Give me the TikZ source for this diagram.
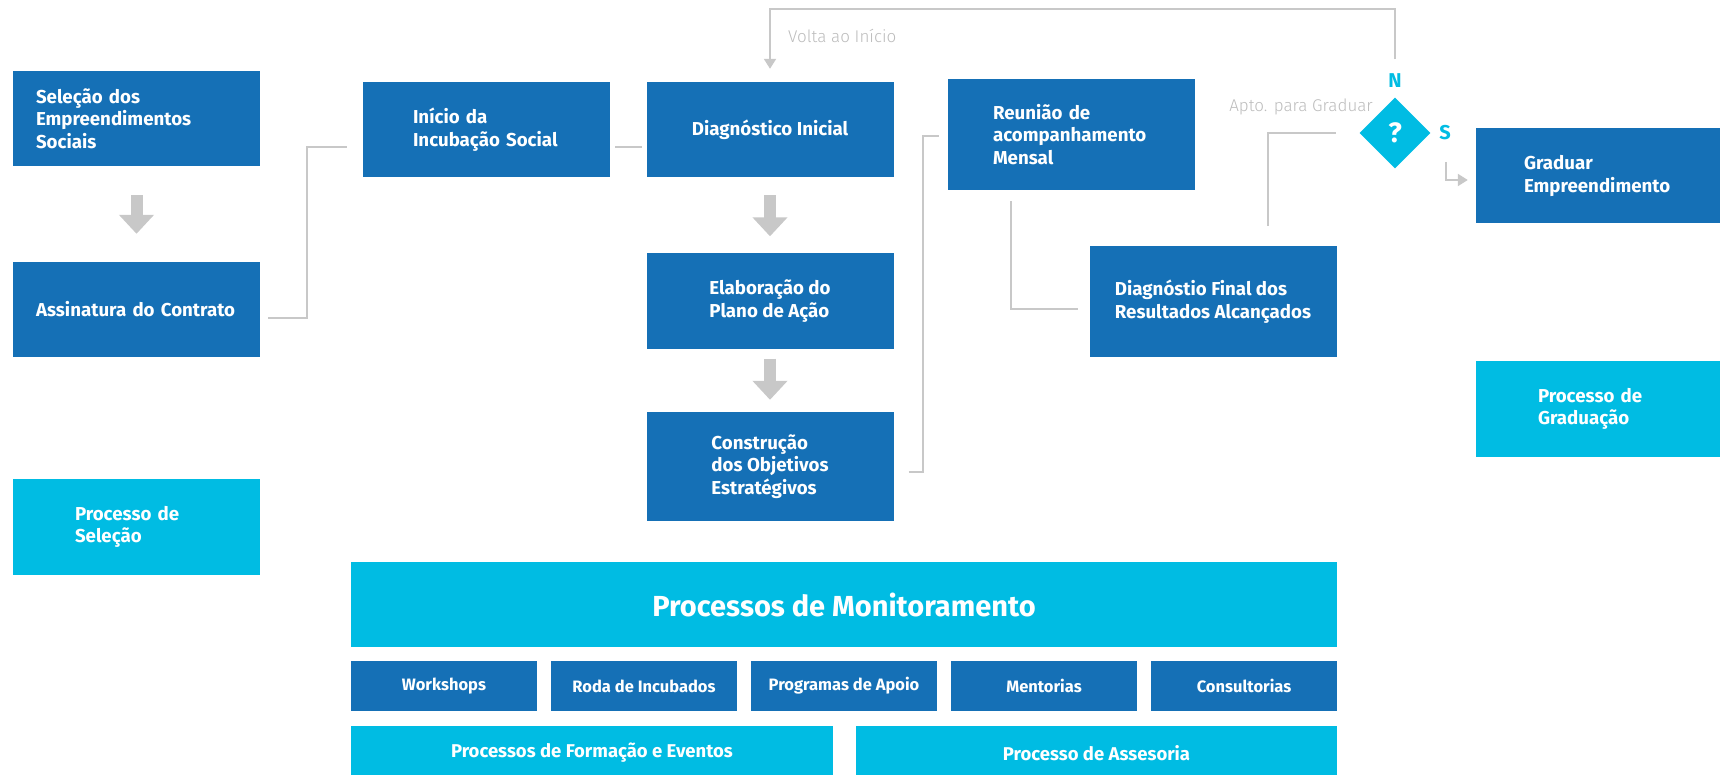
\documentclass[tikz,border=0pt]{standalone}
\usepackage{fontspec}
\setmainfont{Fira Sans}
\newfontfamily\lightfont{Fira Sans Light}
\usetikzlibrary{positioning,arrows}
\usetikzlibrary{shapes}
\usetikzlibrary{arrows.meta}
\usepackage{xcolor}
\definecolor{escuro}{RGB}{21,112,182}
\definecolor{claro}{RGB}{0,188,227}
\definecolor{linha}{RGB}{200,200,200}
\definecolor{rotulo}{RGB}{188,188,188}

\begin{document}
\begin{tikzpicture}[x=1pt,y=1pt]
	\useasboundingbox (0,0) rectangle (1720,-775);
	\tikzstyle{every node}=[font=\fontsize{18.7}{22.5}\selectfont\bfseries, text=white, fill=escuro, inner sep=0pt, minimum width=247pt, minimum height=95pt, align=left]
	\tikzstyle{liga}=[draw=linha, line width=2pt]
	\tikzstyle{seta}=[liga, -{Triangle[width=12pt,length=10pt]}]
	\tikzstyle{bloco}=[draw=linha, line width=12pt, -{Triangle[width=34pt,length=19pt]}]
	\draw (136.5,-118.5) node (sel) [inner xsep=23pt, text width=201pt] {Seleção dos\\Empreendimentos\\Sociais};
	\draw (136.5,-309.5) node (assin) [inner xsep=23pt, text width=201pt] {Assinatura do Contrato};
	\draw (486.5,-129.5) node (inicio) [inner xsep=50pt, text width=147pt] {Início da\\Incubação Social};
	\draw (770,-129.5) node (diag) {Diagnóstico Inicial};
	\draw (770,-301) node (elab) {Elaboração do\\Plano de Ação};
	\draw (770,-466.5) node (constr) [minimum height=109pt] {Construção\\dos Objetivos\\Estratégivos};
	\draw (1071.5,-134.5) node (reun) [minimum height=111pt, inner xsep=45pt, text width=157pt] {Reunião de\\acompanhamento\\Mensal};
	\draw (1213,-301.5) node (dfinal) [minimum height=111pt] {Diagnóstio Final dos\\Resultados Alcançados};
	\draw (1599.5,-176) node (grad) [inner xsep=48pt, text width=151pt] {Graduar\\Empreendimento};
	\draw (444,-686) node (wk) [minimum width=186pt, minimum height=50pt, font=\fontsize{16.5}{20}\selectfont\bfseries] {Workshops};
	\draw (644,-686) node (roda) [minimum width=186pt, minimum height=50pt, font=\fontsize{16.5}{20}\selectfont\bfseries] {Roda de Incubados};
	\draw (844,-686) node (prog) [minimum width=186pt, minimum height=50pt, font=\fontsize{16.5}{20}\selectfont\bfseries] {Programas de Apoio};
	\draw (1044,-686) node (ment) [minimum width=186pt, minimum height=50pt, font=\fontsize{16.5}{20}\selectfont\bfseries] {Mentorias};
	\draw (1244,-686) node (cons) [minimum width=186pt, minimum height=50pt, font=\fontsize{16.5}{20}\selectfont\bfseries] {Consultorias};
	\tikzstyle{every node}=[font=\fontsize{18.7}{22.5}\selectfont\bfseries, text=white, fill=claro, inner sep=0pt, minimum width=247pt, minimum height=96pt, align=left]
	\draw (136.5,-527) node (psel) [inner xsep=62pt, text width=123pt] {Processo de\\Seleção};
	\draw (1599.5,-409) node (pgrad) [inner xsep=62pt, text width=123pt] {Processo de\\Graduação};
	\draw (844,-604.5) node (monit) [minimum width=986pt, minimum height=85pt, font=\fontsize{29}{34}\selectfont\bfseries] {Processos de Monitoramento};
	\draw (592,-753) node (form) [minimum width=482pt, minimum height=54pt, font=\fontsize{18.5}{22}\selectfont\bfseries] {Processos de Formação e Eventos};
	\draw (1096.5,-753) node (asses) [minimum width=481pt, minimum height=54pt, font=\fontsize{18.5}{22}\selectfont\bfseries] {Processo de Assesoria};
	\draw (1395,-133) node (decis) [diamond, minimum width=71pt, minimum height=71pt, font=\fontsize{28}{32}\selectfont\bfseries] {?};
	\tikzstyle{every node}=[fill=none, inner sep=0pt]
	\draw (1395,-81) node (nao) [text=claro, font=\fontsize{20}{24}\selectfont\bfseries] {N};
	\draw (1445,-133) node (sim) [text=claro, font=\fontsize{20}{24}\selectfont\bfseries] {S};
	\draw (1373,-107) node (apto) [anchor=east, text=rotulo, font=\fontsize{17}{20}\lightfont] {Apto. para Graduar};
	\draw (788,-36) node (volta) [anchor=west, text=rotulo, font=\fontsize{17}{20}\lightfont] {Volta ao Início};
	\draw [bloco, shorten <=29pt, shorten >=28pt] (sel) to (assin);
	\draw [bloco, shorten <=18pt, shorten >=17pt] (diag) to (elab);
	\draw [bloco, shorten <=10pt, shorten >=12pt] (elab) to (constr);
	\draw [liga] ([shift={(8,-8.5)}]assin.east) -- ++(39,0) |- ([shift={(-16,-17.5)}]inicio.west);
	\draw [liga] ([shift={(5,-17.5)}]inicio.east) -- ([shift={(-4,-17.5)}]diag.west);
	\draw [liga] ([shift={(15,-5.5)}]constr.east) -- ++(14,0) |- ([shift={(-9,-1.5)}]reun.west);
	\draw [liga] ([shift={(-60.5,-11)}]reun.south) |- ([shift={(-11,-7.5)}]dfinal.west);
	\draw [liga] ([shift={(55,20)}]dfinal.north) |- ([xshift=-23]decis.west);
	\draw [seta] ([yshift=38]decis.north) -- ++(0,50) -| ([yshift=13]diag.north);
	\draw [seta] ([shift={(15,-29)}]decis.east) |- ([shift={(-8,-4)}]grad.west);
\end{tikzpicture}
\end{document}
